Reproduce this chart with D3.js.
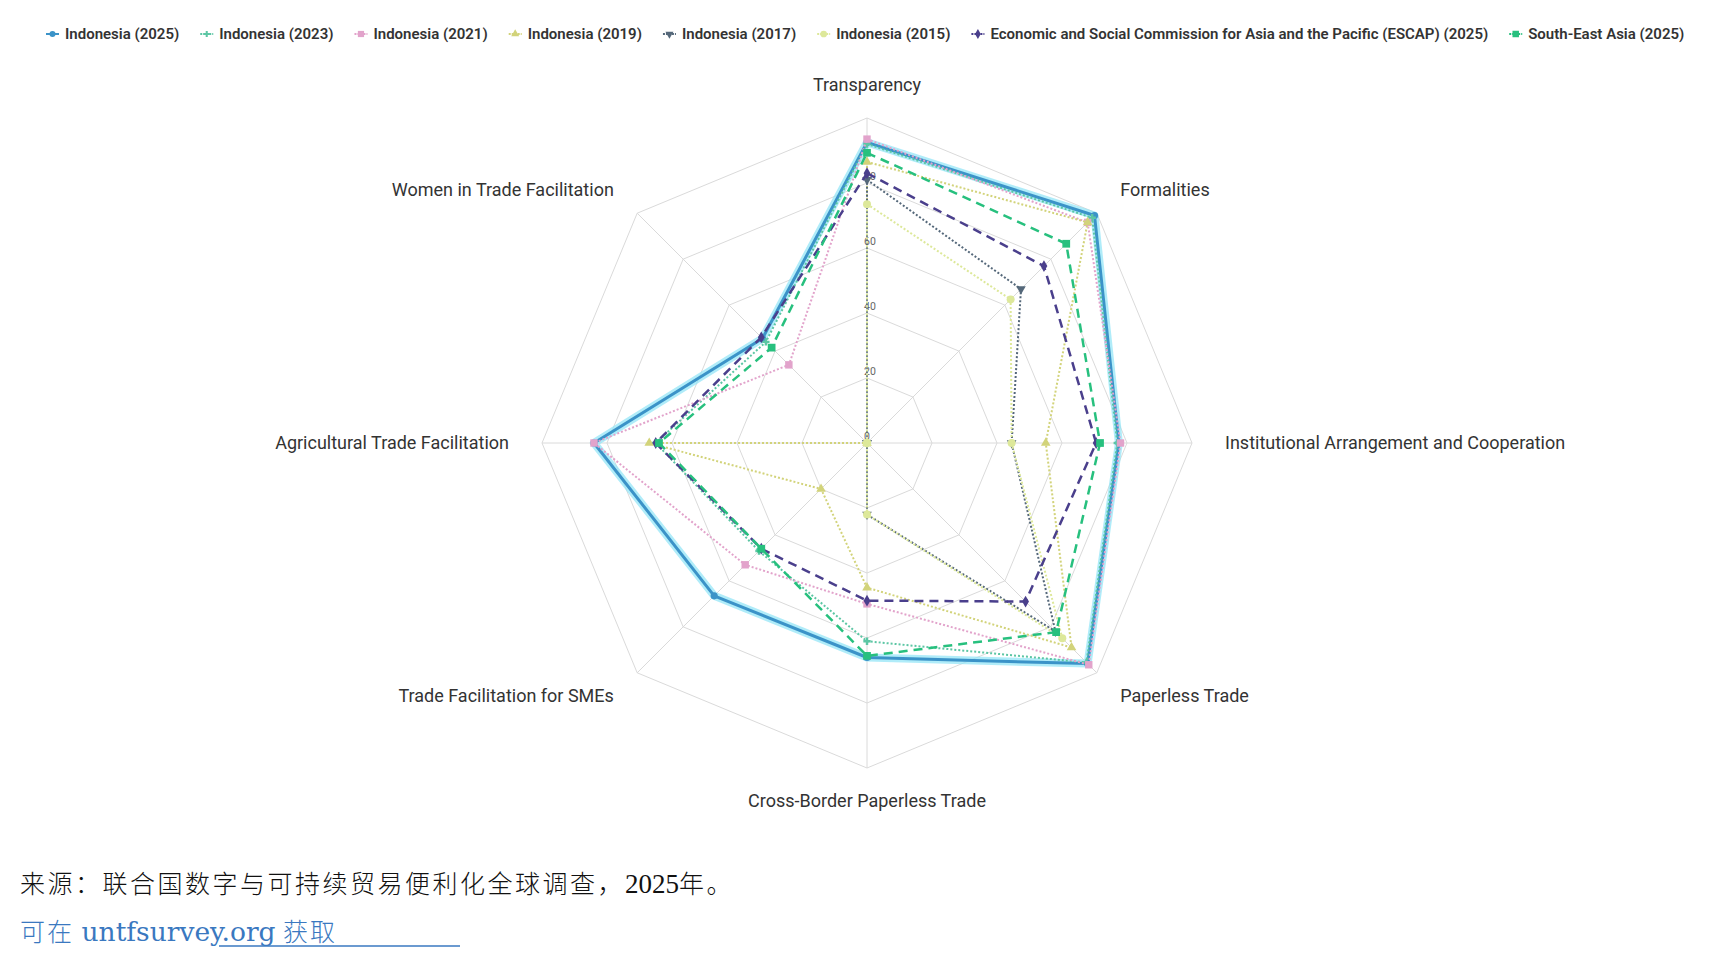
<!DOCTYPE html>
<html>
<head>
    <meta charset="utf-8">
    <script src="https://d3js.org/d3.v7.min.js"></script>
    <style>
        body { margin: 0; background: #fff; }
        svg { display: block; }
    </style>
    <title>Indonesia radar</title>
</head>
<body>
<div class="chart-wrap"></div>
<script>
// axes, clockwise from the top
var axes = ["Transparency", "Formalities", "Institutional Arrangement and Cooperation",
    "Paperless Trade", "Cross-Border Paperless Trade", "Trade Facilitation for SMEs",
    "Agricultural Trade Facilitation", "Women in Trade Facilitation"];

var seriesNames = ["Indonesia (2025)", "Indonesia (2023)", "Indonesia (2021)", "Indonesia (2019)",
    "Indonesia (2017)", "Indonesia (2015)",
    "Economic and Social Commission for Asia and the Pacific (ESCAP) (2025)", "South-East Asia (2025)"];

// scores, same order as axes
var indonesia2025 = [92.5, 99, 77.5, 96, 66, 66.5, 84, 45.5];
var indonesia2023 = [92, 98, 77, 95.5, 61, 47, 65, 44];
var indonesia2021 = [93.5, 96, 78, 96.5, 49.5, 53, 84, 34];
var indonesia2019 = [86.5, 96, 55, 89, 44.5, 20, 67, 0];
var indonesia2017 = [81, 67, 44.5, 82, 22, 0, 0, 0];
var indonesia2015 = [73.5, 62.5, 44.5, 85, 22, 0, 0, 0];
var escap2025 = [83, 77, 70.5, 69, 48.5, 46, 65, 46];
var sea2025 = [89.3, 86.7, 71.7, 82.3, 65.5, 46, 64, 41.5];

var tickValues = [0, 20, 40, 60, 80];

var w = 1716, h = 973;
var cx = 867, cy = 443, R = 325;

var svg = d3.select(".chart-wrap").append("svg")
    .attr("width", w)
    .attr("height", h);

var r = d3.scaleLinear().domain([0, 100]).range([0, R]);
var angle = d3.scalePoint().domain(axes).range([0, 2 * Math.PI * 7 / 8]);

function xy(a, v) {
    var t = angle(a);
    return [cx + r(v) * Math.sin(t), cy - r(v) * Math.cos(t)];
}

var styles = [
    { color: "#3b93c8", dash: null, width: 3, symbol: d3.symbolCircle, size: 40, halo: true },
    { color: "#5cc6a4", dash: "2,2", width: 2, symbol: d3.symbolCross, size: 30 },
    { color: "#e2a3cb", dash: "2,2", width: 2, symbol: d3.symbolSquare, size: 55 },
    { color: "#d2d37a", dash: "2,2", width: 2, symbol: d3.symbolTriangle, size: 40 },
    { color: "#55687a", dash: "2,2", width: 2, symbol: d3.symbolTriangle, size: 40, flip: true },
    { color: "#dde89a", dash: "2,2", width: 2, symbol: d3.symbolCircle, size: 50 },
    { color: "#4a3f8c", dash: "9,6", width: 2.5, symbol: d3.symbolDiamond, size: 40 },
    { color: "#27c07e", dash: "9,6", width: 2.5, symbol: d3.symbolSquare, size: 60 }
];
var seriesData = [indonesia2025, indonesia2023, indonesia2021, indonesia2019,
    indonesia2017, indonesia2015, escap2025, sea2025];

// grid
var grid = svg.append("g");
[20, 40, 60, 80, 100].forEach(function (v) {
    grid.append("polygon")
        .attr("points", axes.map(function (a) { return xy(a, v).join(","); }).join(" "))
        .attr("fill", "none")
        .attr("stroke", "#dadada")
        .attr("stroke-width", 1);
});
axes.forEach(function (a) {
    var p = xy(a, 100);
    grid.append("line")
        .attr("x1", cx).attr("y1", cy)
        .attr("x2", p[0]).attr("y2", p[1])
        .attr("stroke", "#dadada");
});

grid.selectAll("text.tick")
    .data(tickValues)
    .enter().append("text")
    .attr("class", "tick")
    .attr("x", cx - 3)
    .attr("y", function (d) { return cy - r(d) - 3; })
    .attr("font-family", "Roboto, sans-serif")
    .attr("font-size", 10.5)
    .attr("fill", "#666")
    .text(function (d) { return d; });

// axis labels
axes.forEach(function (a, i) {
    var t = angle(a);
    var lx = cx + 358 * Math.sin(t), ly = cy - 358 * Math.cos(t);
    var s = Math.sin(t);
    grid.append("text")
        .attr("x", lx)
        .attr("y", ly)
        .attr("dy", "0.35em")
        .attr("text-anchor", Math.abs(s) < 0.01 ? "middle" : (s > 0 ? "start" : "end"))
        .attr("font-family", "Roboto, sans-serif")
        .attr("font-size", 18)
        .attr("fill", "#333")
        .text(a);
});

// series
var line = d3.lineRadial()
    .angle(function (d, i) { return angle(axes[i]); })
    .radius(function (d) { return r(d); })
    .curve(d3.curveLinearClosed);

var plot = svg.append("g").attr("transform", "translate(" + cx + "," + cy + ")");

seriesData.forEach(function (vals, k) {
    var st = styles[k];
    var g = plot.append("g");
    if (st.halo) {
        g.append("path")
            .attr("d", line(vals))
            .attr("fill", "none")
            .attr("stroke", "#8fe4f7")
            .attr("stroke-opacity", 0.7)
            .attr("stroke-width", 8)
            .attr("stroke-linejoin", "round");
    }
    g.append("path")
        .attr("d", line(vals))
        .attr("fill", "none")
        .attr("stroke", st.color)
        .attr("stroke-width", st.width)
        .attr("stroke-dasharray", st.dash)
        .attr("stroke-linejoin", "round");
    g.selectAll("path.pt")
        .data(vals)
        .enter().append("path")
        .attr("class", "pt")
        .attr("d", d3.symbol().type(st.symbol).size(st.size))
        .attr("transform", function (d, i) {
            var p = xy(axes[i], d);
            return "translate(" + (p[0] - cx) + "," + (p[1] - cy) + ")" + (st.flip ? " rotate(180)" : "");
        })
        .attr("fill", st.color);
});

// legend
var legend = svg.append("g").attr("transform", "translate(0,34)");
var lx = 46;
seriesNames.forEach(function (name, k) {
    var st = styles[k];
    var item = legend.append("g").attr("transform", "translate(" + lx + ",0)");
    item.append("line")
        .attr("x1", 0).attr("x2", 13)
        .attr("y1", 0).attr("y2", 0)
        .attr("stroke", st.color)
        .attr("stroke-width", 2)
        .attr("stroke-dasharray", st.dash ? "2,1" : null);
    item.append("path")
        .attr("d", d3.symbol().type(st.symbol).size(st.size * 0.7))
        .attr("transform", "translate(6.5,0)" + (st.flip ? " rotate(180)" : ""))
        .attr("fill", st.color);
    var txt = item.append("text")
        .attr("x", 19)
        .attr("dy", "0.35em")
        .attr("font-family", "Roboto, sans-serif")
        .attr("font-size", 15)
        .attr("font-weight", 600)
        .attr("fill", "#333")
        .text(name);
    lx += 19 + txt.node().getComputedTextLength() + 21;
});

// source lines
var cjk = "'Noto Sans CJK SC', sans-serif";
var src = svg.append("text")
    .attr("x", 20)
    .attr("y", 893)
    .attr("font-size", 25)
    .attr("font-weight", 300)
    .attr("fill", "#111");
src.append("tspan").attr("font-family", cjk).attr("letter-spacing", 2.5)
    .text("来源：联合国数字与可持续贸易便利化全球调查，");
src.append("tspan").attr("font-family", "'Liberation Serif', serif").attr("font-size", 27)
    .text("2025");
src.append("tspan").attr("font-family", cjk).attr("letter-spacing", 2.5)
    .text("年。");

var link = svg.append("text")
    .attr("x", 20)
    .attr("y", 941)
    .attr("font-size", 25)
    .attr("font-weight", 300)
    .attr("fill", "#3a78c0");
link.append("tspan").attr("font-family", cjk).attr("letter-spacing", 2).text("可在 ");
link.append("tspan").attr("font-family", "'DejaVu Serif', serif").attr("font-size", 26.5).text("untfsurvey.org");
link.append("tspan").attr("font-family", cjk).attr("letter-spacing", 2).text(" 获取");

svg.append("line")
    .attr("x1", 219).attr("x2", 460)
    .attr("y1", 946).attr("y2", 946)
    .attr("stroke", "#3a78c0")
    .attr("stroke-width", 1.5);
</script>
</body>
</html>
